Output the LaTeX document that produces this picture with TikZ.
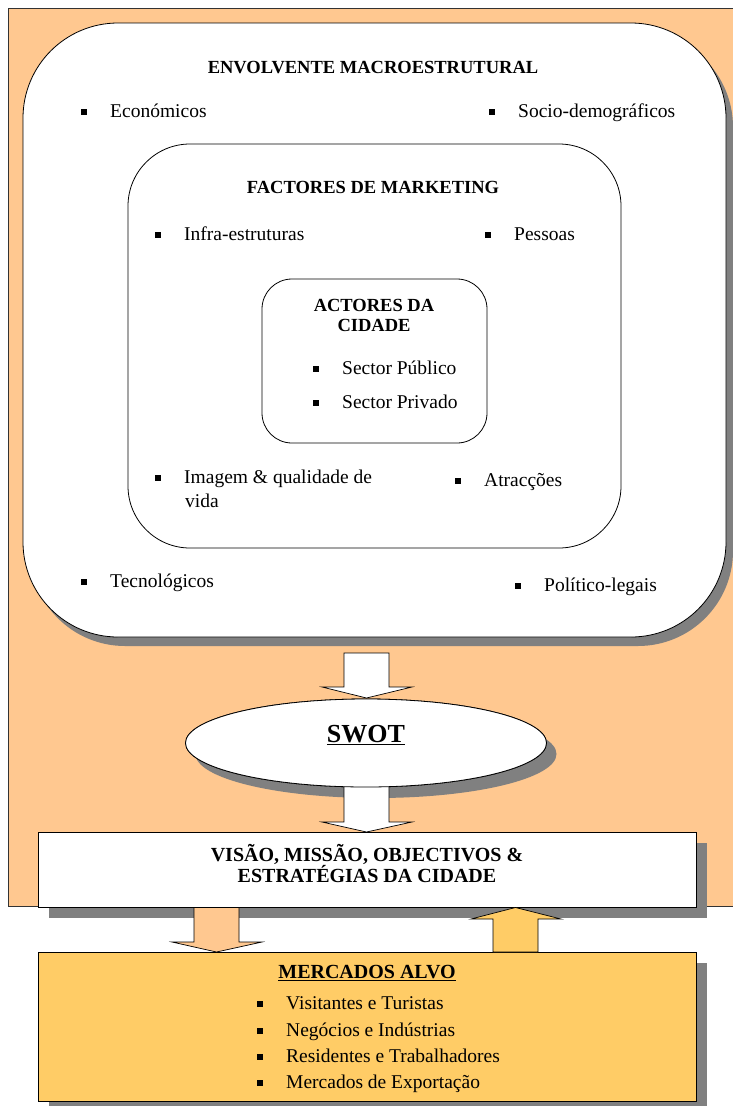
\documentclass[tikz,border=0pt]{standalone}
\usepackage{fontspec}
\setmainfont{Liberation Serif}
\usetikzlibrary{shadows,shapes.geometric}
\definecolor{orangebg}{HTML}{FFC890}
\definecolor{yellowbg}{HTML}{FFCC66}
\definecolor{shadowgray}{HTML}{808080}
\newcommand\bul{\makebox[29pt][l]{\raisebox{2.5pt}{\rule{5.5pt}{5.5pt}}}}
\newcommand\bodyfnt{\fontsize{19.5}{23}\selectfont}
\newcommand\ttlfnt{\fontsize{18.5}{22}\selectfont\bfseries}
\newcommand\bigttlfnt{\fontsize{20}{22}\selectfont\bfseries}
\begin{document}
\begin{tikzpicture}[x=1pt,y=-1pt,
  shad/.style={drop shadow={shadow xshift=#1, shadow yshift=-10pt, fill=shadowgray, opacity=1}},
  shad/.default=10pt,
  rbox/.style={draw=black, line width=0.8pt, fill=white},
  item/.style={font=\bodyfnt, inner sep=0pt, anchor=base west},
  ttl/.style={font=\ttlfnt, inner sep=0pt, anchor=base},
  bigttl/.style={font=\bigttlfnt, inner sep=0pt, anchor=base},
  blk/.style={draw=black, line width=0.7pt, line join=miter}]
\useasboundingbox (0,0) rectangle (732,1106);
% background frame
\draw[fill=orangebg, draw=black!80, line width=0.8pt] (8,8) rectangle (760,906);

% outer macro box
\node[rbox, rectangle, rounded corners=95pt, minimum width=703pt, minimum height=614pt,
  drop shadow={shadow xshift=7pt, shadow yshift=-9pt, fill=shadowgray, opacity=1}] (macro) at (374.5,330) {};
\node[rbox, rectangle, rounded corners=62pt, minimum width=493pt, minimum height=404pt] (mkt) at (374.5,346) {};
\node[rbox, rectangle, rounded corners=30pt, minimum width=225pt, minimum height=164pt] (act) at (374.5,361) {};

\node[ttl] (tmacro) at (373,73) {ENVOLVENTE MACROESTRUTURAL};
\node[item] (eco) at (81,117) {\bul Económicos};
\node[item] (soc) at (489,117) {\bul Socio-demográficos};
\node[item] (tec) at (81,587) {\bul Tecnológicos};
\node[item] (pol) at (515,591) {\bul Político-legais};

\node[ttl] (tmkt) at (373,193) {FACTORES DE MARKETING};
\node[item] (inf) at (155,240) {\bul Infra-estruturas};
\node[item] (pes) at (485,240) {\bul Pessoas};
\node[item] (ima) at (155,483) {\bul Imagem \& qualidade de};
\node[item] (ima2) at (185,507) {vida};
\node[item] (atr) at (455,486) {\bul Atracções};

\node[ttl] (tact1) at (374,311) {ACTORES DA};
\node[ttl] (tact2) at (374,331) {CIDADE};
\node[item] (pub) at (313,374) {\bul Sector Público};
\node[item] (pri) at (313,408) {\bul Sector Privado};

% arrow macro -> swot
\draw[blk, fill=white] (344,653) -- (389,653) -- (389,687) -- (412,687) -- (366.5,698) -- (322,687) -- (344,687) -- cycle;

% SWOT ellipse
\node[ellipse, draw=black, line width=0.8pt, fill=white, minimum width=361pt, minimum height=88pt, inner sep=0pt,
  drop shadow={shadow xshift=10pt, shadow yshift=-11pt, fill=shadowgray, opacity=1}] (swot) at (366,743) {};
% arrow swot -> vision (under ellipse)
\draw[blk, fill=white] (344,770) -- (344,822) -- (322,822) -- (366.5,832) -- (412,822) -- (389,822) -- (389,770);
\fill[white] (345,770) rectangle (388,786);
\node[ellipse, draw=black, line width=0.8pt, fill=white, minimum width=361pt, minimum height=88pt, inner sep=0pt] at (366,743) {};
\node[font=\fontsize{26}{28}\selectfont\bfseries, inner sep=0pt, anchor=base] (tswot) at (366,742) {\underline{SWOT}};

% vision box
\node[rbox, rectangle, minimum width=658pt, minimum height=75pt, inner sep=0pt,
  drop shadow={shadow xshift=11pt, shadow yshift=-11pt, fill=shadowgray, opacity=1}] (vis) at (367,869.5) {};
\node[bigttl] (tvis1) at (367,861) {VISÃO, MISSÃO, OBJECTIVOS \&};
\node[bigttl] (tvis2) at (367,882) {ESTRATÉGIAS DA CIDADE};

% markets box
\node[rectangle, draw=black, line width=0.8pt, fill=yellowbg, minimum width=658pt, minimum height=149pt, inner sep=0pt,
  drop shadow={shadow xshift=11pt, shadow yshift=-11pt, fill=shadowgray, opacity=1}] (mer) at (367,1026.5) {};
\node[bigttl] (tmer) at (367,978) {\underline{MERCADOS ALVO}};
\node[item] (m1) at (257,1009) {\bul Visitantes e Turistas};
\node[item] (m2) at (257,1036) {\bul Negócios e Indústrias};
\node[item] (m3) at (257,1062) {\bul Residentes e Trabalhadores};
\node[item] (m4) at (257,1088) {\bul Mercados de Exportação};

% arrows between vision and markets
\draw[blk, fill=orangebg] (194,907.5) -- (239,907.5) -- (239,942) -- (262,942) -- (216.5,952) -- (172,942) -- (194,942) -- cycle;
\draw[blk, fill=yellowbg] (493,952) -- (493,919) -- (471,919) -- (515.5,907.5) -- (561,919) -- (538,919) -- (538,952) -- cycle;
\end{tikzpicture}
\end{document}
